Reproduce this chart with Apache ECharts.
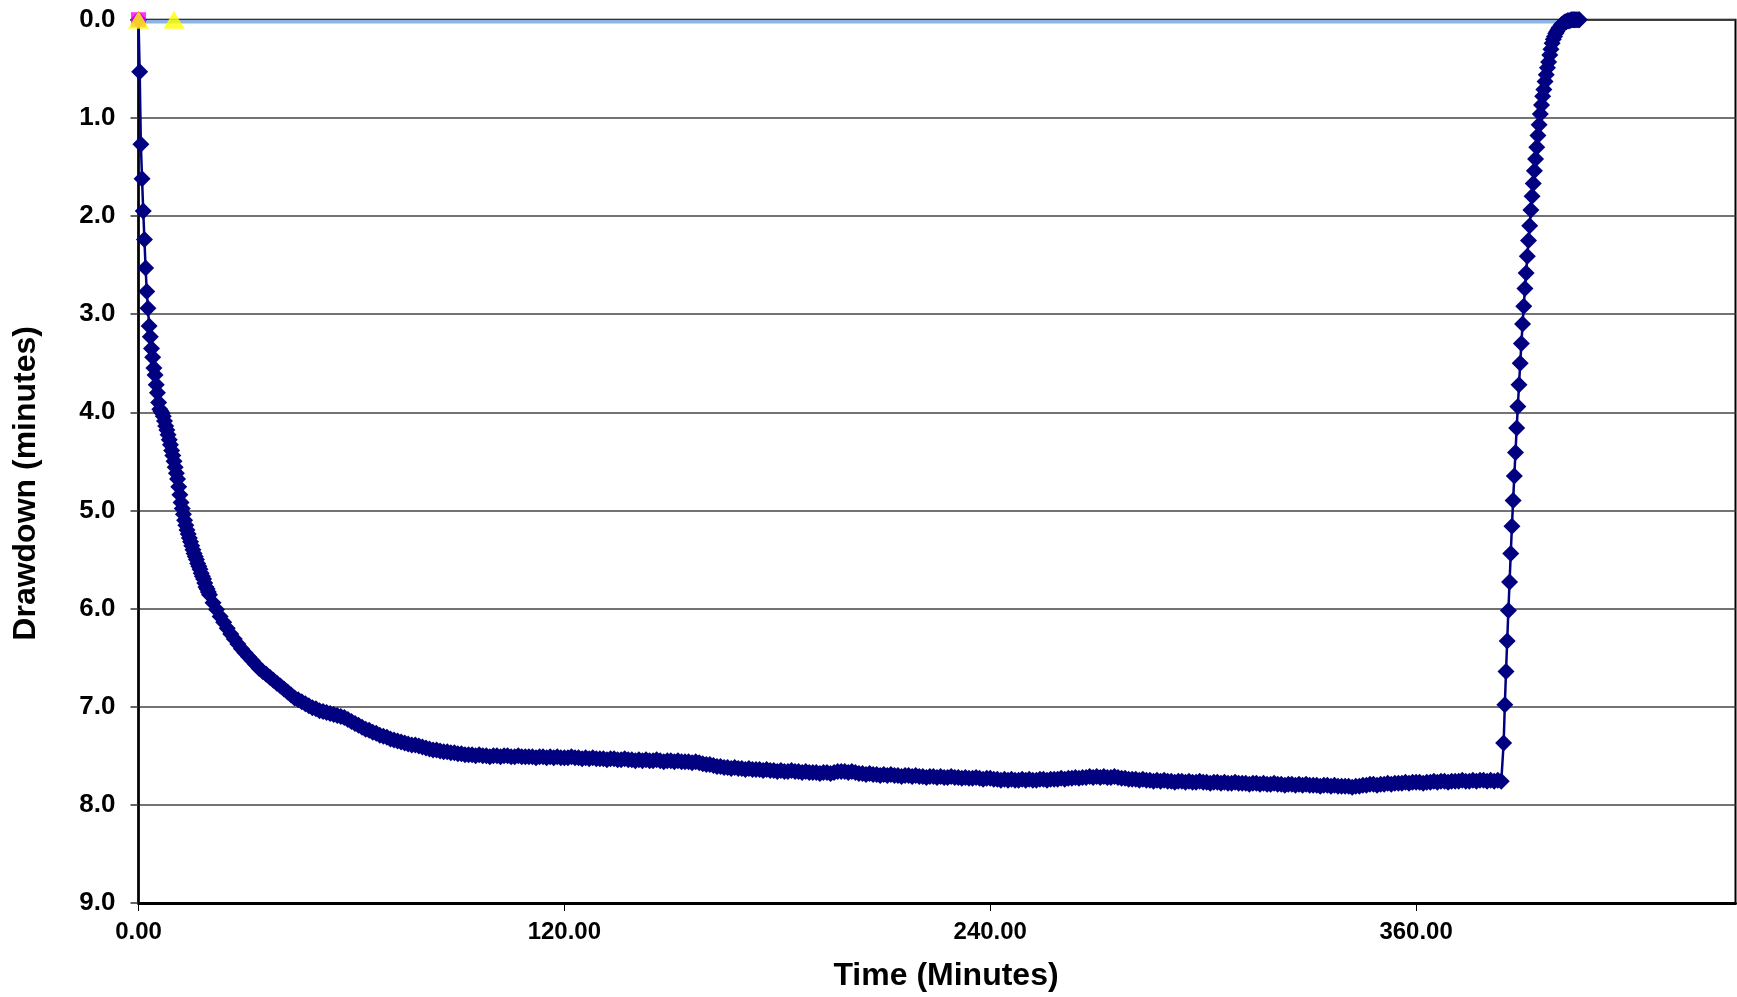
<!DOCTYPE html>
<html><head><meta charset="utf-8">
<script src="https://cdn.jsdelivr.net/npm/echarts@6/dist/echarts.min.js"></script>
<style>html,body{margin:0;padding:0;background:#fff}#c{width:1737px;height:997px}</style>
</head><body><div id="c"></div>
<script>
// ---- data ----
// Axis settings
const xTickValues = [0, 120, 240, 360];
const yTickValues = [0, 1, 2, 3, 4, 5, 6, 7, 8, 9];

// Pumping phase, early part: logger sample every 1/3 minute from t = 0
const earlyStartMin = 0;
const earlyStepMin = 1 / 3;
const earlyDrawdown = [
  0.00, 0.53, 1.27, 1.62, 1.95, 2.24, 2.53, 2.77, 2.94, 3.12,
  3.23, 3.35, 3.44, 3.55, 3.62, 3.72, 3.80, 3.90, 3.97, 3.99,
  4.01, 4.04, 4.09, 4.14, 4.18, 4.23, 4.28, 4.33, 4.39, 4.44,
  4.50, 4.56, 4.62, 4.68, 4.76, 4.84, 4.92, 4.98, 5.04, 5.10,
  5.15, 5.20, 5.24, 5.28, 5.32, 5.36, 5.40, 5.44, 5.47, 5.50,
  5.54, 5.57, 5.60, 5.64, 5.67, 5.70, 5.74, 5.78, 5.80, 5.83,
  5.86
];

// Pumping phase, later part: one reading per minute from t = 21 to t = 384
const lateStartMin = 21;
const lateStepMin = 1;
const lateDrawdown = [
  5.94, 6.01, 6.08, 6.14, 6.20, 6.26, 6.31, 6.36, 6.41, 6.45,
  6.49, 6.53, 6.57, 6.61, 6.64, 6.67, 6.70, 6.73, 6.76, 6.79,
  6.82, 6.85, 6.88, 6.91, 6.93, 6.95, 6.97, 6.99, 7.01, 7.02,
  7.04, 7.05, 7.06, 7.07, 7.08, 7.09, 7.10, 7.11, 7.13, 7.15,
  7.17, 7.19, 7.21, 7.23, 7.24, 7.26, 7.27, 7.29, 7.30, 7.31,
  7.33, 7.34, 7.35, 7.36, 7.37, 7.38, 7.39, 7.39, 7.40, 7.41,
  7.42, 7.43, 7.44, 7.44, 7.45, 7.46, 7.46, 7.47, 7.47, 7.48,
  7.48, 7.49, 7.49, 7.49, 7.50, 7.49, 7.50, 7.50, 7.51, 7.50,
  7.50, 7.51, 7.50, 7.50, 7.51, 7.51, 7.50, 7.51, 7.51, 7.51,
  7.51, 7.52, 7.51, 7.51, 7.52, 7.51, 7.52, 7.51, 7.52, 7.52,
  7.52, 7.51, 7.52, 7.52, 7.53, 7.52, 7.53, 7.52, 7.53, 7.53,
  7.53, 7.54, 7.53, 7.53, 7.54, 7.54, 7.53, 7.54, 7.54, 7.55,
  7.54, 7.55, 7.54, 7.55, 7.55, 7.54, 7.55, 7.56, 7.55, 7.55,
  7.56, 7.55, 7.56, 7.56, 7.56, 7.57, 7.56, 7.57, 7.58, 7.59,
  7.59, 7.60, 7.61, 7.61, 7.62, 7.62, 7.63, 7.62, 7.63, 7.63,
  7.64, 7.63, 7.64, 7.64, 7.64, 7.65, 7.64, 7.65, 7.65, 7.66,
  7.65, 7.66, 7.66, 7.65, 7.66, 7.66, 7.67, 7.66, 7.67, 7.67,
  7.67, 7.68, 7.67, 7.67, 7.68, 7.67, 7.66, 7.66, 7.66, 7.67,
  7.66, 7.67, 7.68, 7.68, 7.69, 7.68, 7.69, 7.69, 7.70, 7.69,
  7.70, 7.69, 7.70, 7.70, 7.71, 7.70, 7.70, 7.71, 7.70, 7.71,
  7.71, 7.72, 7.71, 7.71, 7.72, 7.71, 7.72, 7.72, 7.71, 7.72,
  7.72, 7.73, 7.72, 7.73, 7.73, 7.72, 7.73, 7.74, 7.73, 7.73,
  7.74, 7.74, 7.75, 7.74, 7.75, 7.74, 7.75, 7.75, 7.74, 7.75,
  7.74, 7.75, 7.75, 7.74, 7.74, 7.75, 7.74, 7.74, 7.74, 7.73,
  7.74, 7.73, 7.73, 7.72, 7.73, 7.72, 7.72, 7.71, 7.72, 7.71,
  7.72, 7.71, 7.72, 7.72, 7.71, 7.72, 7.73, 7.73, 7.74, 7.74,
  7.74, 7.75, 7.74, 7.75, 7.75, 7.76, 7.75, 7.76, 7.75, 7.76,
  7.76, 7.77, 7.76, 7.76, 7.77, 7.76, 7.77, 7.77, 7.76, 7.77,
  7.77, 7.78, 7.77, 7.77, 7.78, 7.77, 7.78, 7.78, 7.77, 7.78,
  7.78, 7.78, 7.79, 7.78, 7.78, 7.79, 7.78, 7.79, 7.79, 7.78,
  7.79, 7.79, 7.80, 7.79, 7.79, 7.80, 7.79, 7.80, 7.79, 7.80,
  7.80, 7.80, 7.81, 7.80, 7.80, 7.81, 7.80, 7.81, 7.81, 7.81,
  7.81, 7.82, 7.81, 7.81, 7.80, 7.80, 7.79, 7.79, 7.80, 7.79,
  7.79, 7.78, 7.79, 7.78, 7.78, 7.78, 7.77, 7.78, 7.77, 7.77,
  7.77, 7.78, 7.77, 7.77, 7.76, 7.77, 7.76, 7.76, 7.77, 7.76,
  7.76, 7.76, 7.75, 7.76, 7.76, 7.75, 7.76, 7.75, 7.75, 7.76,
  7.75, 7.76, 7.75, 7.76
];

// Recovery phase: logger sample every 1/3 minute from t = 384.67
const recoveryStartMin = 384.67;
const recoveryStepMin = 1 / 3;
const recoveryDrawdown = [
  7.37, 6.98, 6.64, 6.33, 6.02, 5.73, 5.44, 5.16, 4.90, 4.65,
  4.41, 4.16, 3.94, 3.72, 3.50, 3.30, 3.10, 2.92, 2.74, 2.58,
  2.41, 2.25, 2.10, 1.94, 1.80, 1.67, 1.54, 1.42, 1.30, 1.18,
  1.07, 0.96, 0.87, 0.78, 0.71, 0.63, 0.56, 0.49, 0.43, 0.36,
  0.30, 0.24, 0.20, 0.17, 0.14, 0.12, 0.10, 0.08, 0.07, 0.05,
  0.04, 0.03, 0.02, 0.02, 0.01, 0.01, 0.01, 0.00, 0.00, 0.00,
  0.00, 0.00, 0.00, 0.00, 0.00
];

// Light-blue reference line along the top
const refLineTimes = [0, 406];
const refLineValues = [0.02, 0.02];

// Pink square and yellow triangle markers
const squareTimes = [0];
const squareValues = [0];
const triangleTimes = [0, 10];
const triangleValues = [0, 0];

// ---- build ----
function seg(start, step, vals) {
  return vals.map((v, i) => [Math.round((start + i * step) * 1000) / 1000, v]);
}
function pairs(xs, ys) { return xs.map((x, i) => [x, ys[i]]); }

const drawdownData = []
  .concat(seg(earlyStartMin, earlyStepMin, earlyDrawdown))
  .concat(seg(lateStartMin, lateStepMin, lateDrawdown))
  .concat(seg(recoveryStartMin, recoveryStepMin, recoveryDrawdown));

const FONT = '"Liberation Sans", Arial, sans-serif';
const chart = echarts.init(document.getElementById('c'), null, { renderer: 'canvas' });
chart.setOption({
  animation: false,
  backgroundColor: '#ffffff',
  grid: { left: 138.5, right: 1.5, top: 19.7, bottom: 92.5, show: true,
          borderColor: '#000', borderWidth: 2, backgroundColor: 'transparent' },
  xAxis: {
    type: 'value', min: 0, max: 450, interval: 120, position: 'bottom',
    axisLine: { show: true, onZero: false, lineStyle: { color: '#000', width: 3 } },
    axisTick: { show: true, length: 8, lineStyle: { color: '#000', width: 1 } },
    axisLabel: { show: true, showMaxLabel: false, margin: 17, color: '#000',
                 fontSize: 24, fontWeight: 'bold', fontFamily: FONT,
                 formatter: v => xTickValues.includes(v) ? v.toFixed(2) : '' },
    splitLine: { show: false },
    name: 'Time (Minutes)', nameLocation: 'middle', nameGap: 57,
    nameTextStyle: { color: '#000', fontSize: 32, fontWeight: 'bold', fontFamily: FONT,
                     padding: [0, 0, 0, 18] }
  },
  yAxis: {
    type: 'value', inverse: true, min: 0, max: 9, interval: 1,
    axisLine: { show: true, onZero: false, lineStyle: { color: '#000', width: 2.5 } },
    axisTick: { show: true, length: 8, lineStyle: { color: '#333', width: 1.5 } },
    axisLabel: { margin: 23, color: '#000', fontSize: 26, fontWeight: 'bold', fontFamily: FONT,
                 formatter: v => yTickValues.includes(v) ? v.toFixed(1) : '' },
    splitLine: { show: true, lineStyle: { color: '#444', width: 1.5 } },
    name: 'Drawdown (minutes)', nameLocation: 'middle', nameGap: 96, nameRotate: 90,
    nameTextStyle: { color: '#000', fontSize: 32, fontWeight: 'bold', fontFamily: FONT,
                     padding: [0, 44, 0, 0] }
  },
  series: [
    { type: 'line', data: pairs(refLineTimes, refLineValues), symbol: 'none', clip: false, z: 1,
      lineStyle: { color: '#8DB4E2', width: 3.5 } },
    { type: 'line', data: drawdownData, symbol: 'diamond', symbolSize: 17, clip: false, z: 2,
      itemStyle: { color: '#000080' }, lineStyle: { color: '#000080', width: 2.5 } },
    { type: 'scatter', data: pairs(squareTimes, squareValues), symbol: 'rect', symbolSize: 15,
      clip: false, z: 3, itemStyle: { color: '#FF00FF' } },
    { type: 'scatter', data: pairs(triangleTimes, triangleValues), symbol: 'triangle',
      symbolSize: [21, 18], clip: false, z: 4, itemStyle: { color: '#FFFF00' } }
  ]
});
</script></body></html>
